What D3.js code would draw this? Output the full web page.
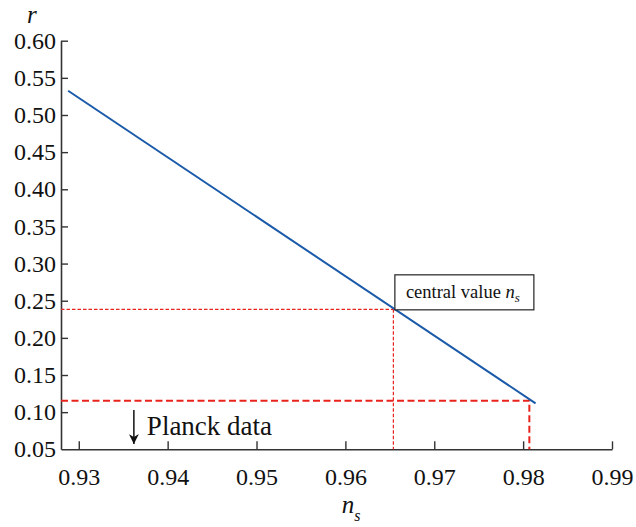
<!DOCTYPE html>
<html>
<head>
<meta charset="utf-8">
<script src="https://cdn.jsdelivr.net/npm/d3@7/dist/d3.min.js"></script>
</head>
<body style="margin:0">
<svg id="chart" width="636" height="527"></svg>
<script>
// ---- data ----
const xTicks = [0.93, 0.94, 0.95, 0.96, 0.97, 0.98, 0.99];
const yTicks = [0.05, 0.10, 0.15, 0.20, 0.25, 0.30, 0.35, 0.40, 0.45, 0.50, 0.55, 0.60];
const xDomain = [0.928, 0.99];
const yDomain = [0.05, 0.60];
// blue model line (n_s, r)
const modelNs = [0.9288, 0.9814];
const modelR  = [0.5326, 0.1119];
// central value lines
const centralNs = 0.9654;
const centralR = 0.2384;
// Planck bound lines
const planckNs = 0.9807;
const planckR = 0.1155;
// annotation
const planckArrowNs = 0.9362;
const planckArrowR = [0.1030, 0.0570];
const planckLabel = "Planck data";
const centralLabel = "central value ";

// ---- layout ----
const FONT = '"Liberation Serif"';
const svg = d3.select("#chart");
const x = d3.scaleLinear().domain(xDomain).range([61, 612]);
const y = d3.scaleLinear().domain(yDomain).range([449.3, 40.7]);

const axisColor = "#333";
const red = "#e8231c";
const blue = "#1a5aa8";

// axes
const gx = svg.append("g").attr("transform", `translate(0,${y(yDomain[0])})`)
  .call(d3.axisBottom(x).tickValues(xTicks).tickSizeInner(-8).tickSizeOuter(0)
    .tickPadding(19).tickFormat(d3.format(".2f")));
const gy = svg.append("g").attr("transform", `translate(${x(xDomain[0])},0)`)
  .call(d3.axisLeft(y).tickValues(yTicks).tickSizeInner(-7).tickSizeOuter(0)
    .tickPadding(5).tickFormat(d3.format(".2f")));
[gx, gy].forEach(g => {
  g.select(".domain").attr("stroke", axisColor).attr("stroke-width", 1.6);
  g.selectAll(".tick line").attr("stroke", axisColor).attr("stroke-width", 1.4);
  g.selectAll(".tick text").attr("fill", "#111")
    .style("font-family", FONT).style("font-size", "24px");
});
// the 0.05 tick coincides with the x axis
gy.selectAll(".tick").filter(d => d === 0.05).select("line").remove();

// central value dotted lines
const dotted = svg.append("g").attr("fill", "none").attr("stroke", red)
  .attr("stroke-width", 1.2).attr("stroke-dasharray", "3.5,2");
dotted.append("line").attr("x1", x(xDomain[0])).attr("x2", x(centralNs))
  .attr("y1", y(centralR)).attr("y2", y(centralR));
dotted.append("line").attr("x1", x(centralNs)).attr("x2", x(centralNs))
  .attr("y1", y(centralR)).attr("y2", y(yDomain[0]));

// Planck dashed lines
const dashed = svg.append("g").attr("fill", "none").attr("stroke", red)
  .attr("stroke-width", 2).attr("stroke-dasharray", "7,3.5");
dashed.append("path").attr("d", d3.line()([
  [x(xDomain[0]), y(planckR)], [x(planckNs), y(planckR)], [x(planckNs), y(yDomain[0])]
]));

// model line
svg.append("path")
  .datum(modelNs.map((d, i) => [d, modelR[i]]))
  .attr("fill", "none").attr("stroke", blue).attr("stroke-width", 2)
  .attr("d", d3.line().x(d => x(d[0])).y(d => y(d[1])));

// central value box
const bx = x(centralNs) + 1.5, by = y(centralR) - 34.5;
svg.append("rect").attr("x", bx).attr("y", by).attr("width", 139).attr("height", 35)
  .attr("fill", "#fff").attr("stroke", "#222").attr("stroke-width", 1.2);
const ct = svg.append("text").attr("x", bx + 11).attr("y", by + 23)
  .style("font-family", FONT).style("font-size", "18.5px").attr("fill", "#111");
ct.append("tspan").text(centralLabel);
ct.append("tspan").style("font-style", "italic").text("n");
ct.append("tspan").style("font-style", "italic").style("font-size", "13px").attr("dy", 4).text("s");

// Planck arrow + label
const defs = svg.append("defs");
defs.append("marker").attr("id", "ah").attr("viewBox", "0 0 10 10")
  .attr("refX", 10).attr("refY", 5).attr("markerWidth", 10).attr("markerHeight", 10)
  .attr("markerUnits", "userSpaceOnUse").attr("orient", "auto")
  .append("path").attr("d", "M0,0 L10,5 L0,10 L3,5 Z").attr("fill", "#111");
svg.append("line").attr("x1", x(planckArrowNs)).attr("x2", x(planckArrowNs))
  .attr("y1", y(planckArrowR[0])).attr("y2", y(planckArrowR[1]))
  .attr("stroke", "#111").attr("stroke-width", 1.5).attr("marker-end", "url(#ah)");
svg.append("text").attr("x", x(planckArrowNs) + 13).attr("y", y(planckArrowR[1]) - 9)
  .style("font-family", FONT).style("font-size", "27px").attr("fill", "#111").text(planckLabel);

// axis titles
const xt = svg.append("text").attr("x", (x(0.96) + x(0.97)) / 2 - 48).attr("y", 513)
  .style("font-family", FONT).style("font-size", "25px").style("font-style", "italic").attr("fill", "#111");
xt.append("tspan").text("n");
xt.append("tspan").attr("dy", 8).style("font-size", "16px").text("s");
svg.append("text").attr("x", 27).attr("y", 23)
  .style("font-family", FONT).style("font-size", "25px").style("font-style", "italic")
  .attr("fill", "#111").text("r");
</script>
</body>
</html>
